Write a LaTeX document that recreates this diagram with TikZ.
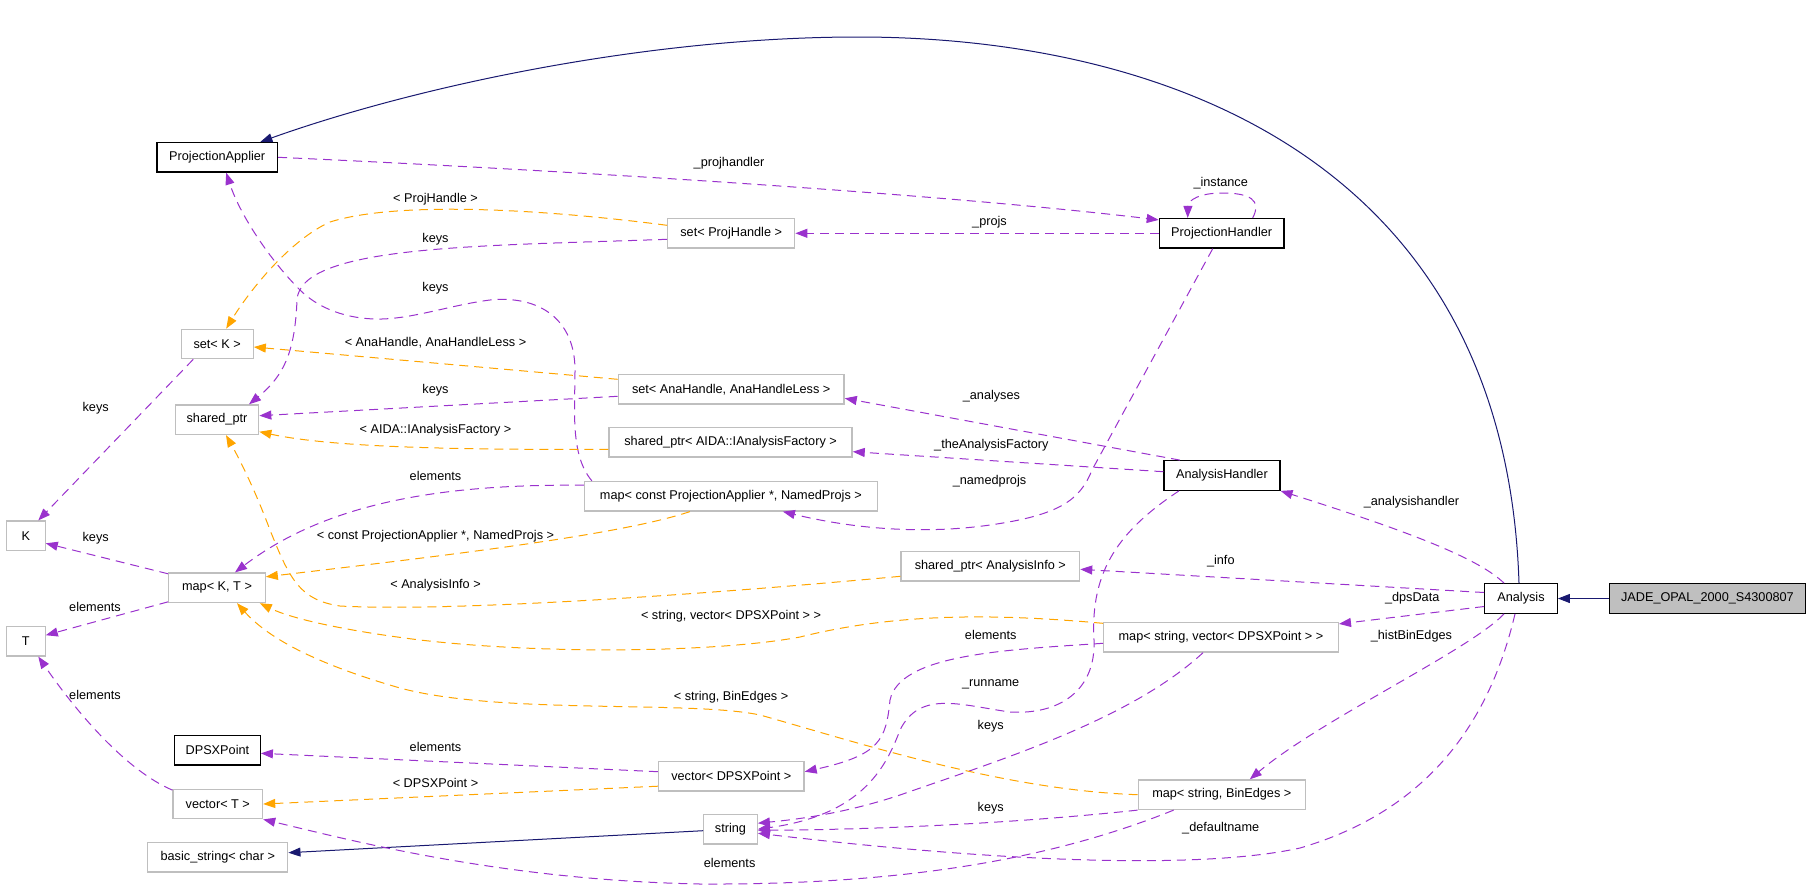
\documentclass[tikz,border=0pt]{standalone}
\usepackage{fontspec}
\setmainfont{Liberation Sans}
\usetikzlibrary{arrows.meta}
\definecolor{purp}{HTML}{9A32CD}
\definecolor{orng}{HTML}{FFA500}
\definecolor{navyb}{HTML}{191970}
\definecolor{gbord}{HTML}{BFBFBF}
\newcommand\dgfont{\fontsize{12.7pt}{15pt}\selectfont}
\begin{document}
\begin{tikzpicture}[x=1pt,y=-1pt,
  cls/.style={draw=gbord, line width=1.3pt, fill=white, minimum height=29.5pt, inner sep=0pt, font=\dgfont},
  doc/.style={cls, draw=black},
  lbl/.style={font=\dgfont, inner sep=0pt},
  mem/.style={draw=purp, line width=1pt, dash pattern=on 9pt off 6pt, -{Triangle[length=12pt,width=9pt]}},
  tpl/.style={mem, draw=orng},
  inh/.style={draw=navyb, line width=1pt, -{Triangle[length=12pt,width=9pt]}}]
\useasboundingbox (0,0) rectangle (1811,892);
% nodes
\node[doc,minimum width=120.6pt] (pa) at (217.2,157.3) {ProjectionApplier};
\node[cls,minimum width=72pt] (setk) at (217.2,344) {set< K >};
\node[cls,minimum width=83.4pt] (sp) at (217,419.7) {shared\_ptr};
\node[cls,minimum width=38.7pt] (K) at (25.8,535.8) {K};
\node[cls,minimum width=96.4pt] (mapkt) at (217,587.8) {map< K, T >};
\node[cls,minimum width=38.7pt] (T) at (25.8,641.2) {T};
\node[doc,minimum width=85.7pt] (dpsx) at (217.4,750.3) {DPSXPoint};
\node[cls,minimum width=89.5pt] (vect) at (217.8,804) {vector< T >};
\node[cls,minimum width=140pt] (bstr) at (217.8,857.2) {basic\_string< char >};
\node[cls,minimum width=127pt] (setph) at (731.2,233.3) {set< ProjHandle >};
\node[cls,minimum width=225.8pt] (setah) at (731.2,389.3) {set< AnaHandle, AnaHandleLess >};
\node[cls,minimum width=243pt] (spaida) at (730.6,442.3) {shared\_ptr< AIDA::IAnalysisFactory >};
\node[cls,minimum width=292.8pt] (npm) at (730.9,496.2) {map< const ProjectionApplier *, NamedProjs >};
\node[cls,minimum width=145.5pt] (vdps) at (731.3,776.2) {vector< DPSXPoint >};
\node[cls,minimum width=53.5pt] (str) at (730.5,829.2) {string};
\node[cls,minimum width=178.6pt] (spai) at (990.3,566.3) {shared\_ptr< AnalysisInfo >};
\node[doc,minimum width=124.7pt] (ph) at (1221.7,233.3) {ProjectionHandler};
\node[doc,minimum width=116pt] (ah) at (1221.9,475.5) {AnalysisHandler};
\node[cls,minimum width=234.7pt] (msv) at (1221,637.3) {map< string, vector< DPSXPoint > >};
\node[cls,minimum width=167pt] (msbe) at (1221.8,794.7) {map< string, BinEdges >};
\node[doc,minimum width=72.5pt] (ana) at (1521,598.5) {Analysis};
\node[doc,fill=gbord,minimum width=196.5pt] (jade) at (1707.4,598.5) {JADE\_OPAL\_2000\_S4300807};
% inheritance
\draw[inh] (jade) -- (ana);
\draw[inh] ([xshift=-2pt]ana.north) .. controls (1505,150) and (1150,37) .. (858,37) .. controls (650,37) and (420,85) .. (pa);
\draw[inh] ([yshift=-1.5pt]str.west) -- ([yshift=4.5pt]bstr.east);
% members
\draw[mem] (pa.east) .. controls (600,172) and (950,195) .. ([yshift=-2pt]ph.north west);
\draw[mem] (ph.west) -- (setph.east);
\draw[mem] ([xshift=31pt]ph.north) .. controls (1262,200) and (1250,193) .. (1222,193) .. controls (1200,193) and (1188,200) .. ([xshift=-34pt]ph.north);
\draw[mem] ([xshift=-9pt]ph.south) -- (1092,470) .. controls (1080,500) and (1060,515) .. (990,525) .. controls (920,535) and (850,528) .. ([xshift=52pt]npm.south);
\draw[mem] ([yshift=-6pt]setph.west) .. controls (480,246) and (300,245) .. (297,300) .. controls (295,350) and (285,375) .. ([xshift=32pt]sp.north);
\draw[mem] ([xshift=8pt]npm.north west) .. controls (570,455) and (575,410) .. (575,370) .. controls (575,320) and (540,295) .. (490,300) .. controls (450,305) and (410,320) .. (375,319) .. controls (340,318) and (315,305) .. (300,290) .. controls (270,260) and (240,215) .. ([xshift=9pt]pa.south);
\draw[mem] ([yshift=-7pt]setah.west) -- ([yshift=4pt]sp.east);
\draw[mem] ([yshift=-6pt]msv.west) .. controls (1000,650) and (900,655) .. (890,700) .. controls (886,740) and (880,755) .. ([yshift=4.5pt]vdps.east);
\draw[mem] ([yshift=11pt]npm.west) .. controls (450,484) and (330,500) .. ([xshift=18pt]mapkt.north);
\draw[mem] ([xshift=-24pt]setk.south) -- ([xshift=12.5pt]K.north);
\draw[mem] ([yshift=14pt]mapkt.west) -- ([yshift=-7.5pt]K.east);
\draw[mem] ([yshift=-14pt]mapkt.west) -- ([yshift=6pt]T.east);
\draw[mem] ([yshift=-1.5pt]vect.north west) .. controls (125,770) and (75,710) .. ([xshift=12.5pt]T.south);
\draw[mem] ([yshift=4.5pt]vdps.west) -- ([yshift=-3pt]dpsx.east);
\draw[mem] ([xshift=-42pt]ah.north) -- ([yshift=-9pt]setah.east);
\draw[mem] ([yshift=3.8pt]ah.west) -- ([yshift=-9.4pt]spaida.east);
\draw[mem] ([xshift=-17pt]ana.north) .. controls (1480,560) and (1420,535) .. (ah.south east);
\draw[mem] ([yshift=6pt]ana.west) -- ([yshift=-3pt]spai.east);
\draw[mem] ([yshift=-8pt]ana.west) -- ([yshift=-2pt]msv.north east);
\draw[mem] ([xshift=-17pt]ana.south) .. controls (1470,650) and (1320,720) .. ([xshift=28pt]msbe.north);
\draw[mem] ([xshift=-6pt]ana.south) .. controls (1490,720) and (1430,810) .. (1300,848) .. controls (1200,870) and (1000,862) .. ([yshift=-4pt]str.east);
\draw[mem] ([xshift=-43pt]ah.south) .. controls (1120,530) and (1090,570) .. (1094,640) .. controls (1096,690) and (1060,715) .. (1010,712) .. controls (960,705) and (920,690) .. (900,730) .. controls (885,770) and (860,815) .. (str.east);
\draw[mem] ([xshift=-18pt]msv.south) .. controls (1130,720) and (1000,760) .. (900,795) .. controls (840,815) and (790,820) .. ([yshift=6pt]str.east);
\draw[mem] (msbe.south west) .. controls (1000,825) and (850,830) .. ([yshift=-1pt]str.east);
\draw[mem] ([xshift=36pt]msbe.south west) .. controls (1050,860) and (900,885) .. (700,884) .. controls (500,880) and (350,840) .. (vect.south east);
% templates
\draw[tpl] ([yshift=8pt]setph.west) .. controls (550,210) and (400,200) .. (330,222) .. controls (290,240) and (250,290) .. ([xshift=9pt]setk.north);
\draw[tpl] ([yshift=10pt]setah.west) -- ([yshift=-3pt]setk.east);
\draw[tpl] ([yshift=-7pt]spaida.west) .. controls (450,450) and (330,447) .. ([yshift=-12pt]sp.east);
\draw[tpl] ([xshift=-41pt]npm.south) .. controls (620,535) and (450,555) .. ([yshift=11pt]mapkt.east);
\draw[tpl] ([yshift=-10pt]spai.west) .. controls (700,595) and (450,612) .. (340,606) .. controls (300,600) and (290,580) .. (270,530) .. controls (255,490) and (240,460) .. ([xshift=9pt]sp.south);
\draw[tpl] ([yshift=14pt]msv.west) .. controls (1000,614) and (900,612) .. (800,637) .. controls (720,652) and (550,655) .. (420,640) .. controls (340,630) and (290,618) .. ([xshift=-6pt]mapkt.south east);
\draw[tpl] (msbe.west) .. controls (1000,790) and (850,740) .. (760,715) .. controls (690,700) and (500,715) .. (400,688) .. controls (320,665) and (270,640) .. ([xshift=20pt]mapkt.south);
\draw[tpl] ([yshift=-10pt]vdps.west) -- (vect.east);
% labels
\node[lbl] (l1) at (729,163.3) {\_projhandler};
\node[lbl] (l2) at (989.5,222.7) {\_projs};
\node[lbl] (l3) at (1220.7,183.3) {\_instance};
\node[lbl] (l4) at (989.5,481) {\_namedprojs};
\node[lbl] (l5) at (435.5,199.3) {< ProjHandle >};
\node[lbl] (l6) at (435.5,239.3) {keys};
\node[lbl] (l7) at (435.5,288.3) {keys};
\node[lbl] (l8) at (435.5,342.7) {< AnaHandle, AnaHandleLess >};
\node[lbl] (l9) at (435.5,390.7) {keys};
\node[lbl] (l10) at (435.5,430.7) {< AIDA::IAnalysisFactory >};
\node[lbl] (l11) at (435.5,476) {elements};
\node[lbl] (l12) at (435.5,536) {< const ProjectionApplier *, NamedProjs >};
\node[lbl] (l13) at (435.5,585) {< AnalysisInfo >};
\node[lbl] (l14) at (731,616.7) {< string, vector< DPSXPoint > >};
\node[lbl] (l15) at (731,697.3) {< string, BinEdges >};
\node[lbl] (l16) at (435.5,746.7) {elements};
\node[lbl] (l17) at (435.5,782.7) {< DPSXPoint >};
\node[lbl] (l18) at (729.6,863.3) {elements};
\node[lbl] (l19) at (95.7,408.7) {keys};
\node[lbl] (l20) at (95.7,538.7) {keys};
\node[lbl] (l21) at (95,606.7) {elements};
\node[lbl] (l22) at (95,695) {elements};
\node[lbl] (l23) at (991.4,396) {\_analyses};
\node[lbl] (l24) at (991.4,445) {\_theAnalysisFactory};
\node[lbl] (l25) at (1411.4,502.7) {\_analysishandler};
\node[lbl] (l26) at (1220.8,560.7) {\_info};
\node[lbl] (l27) at (1412.2,598.3) {\_dpsData};
\node[lbl] (l28) at (1411.4,636.7) {\_histBinEdges};
\node[lbl] (l29) at (990.7,635) {elements};
\node[lbl] (l30) at (990.7,684) {\_runname};
\node[lbl] (l31) at (990.7,726.7) {keys};
\node[lbl] (l32) at (990.7,808.3) {keys};
\node[lbl] (l33) at (1220.7,828.3) {\_defaultname};
\end{tikzpicture}
\end{document}
